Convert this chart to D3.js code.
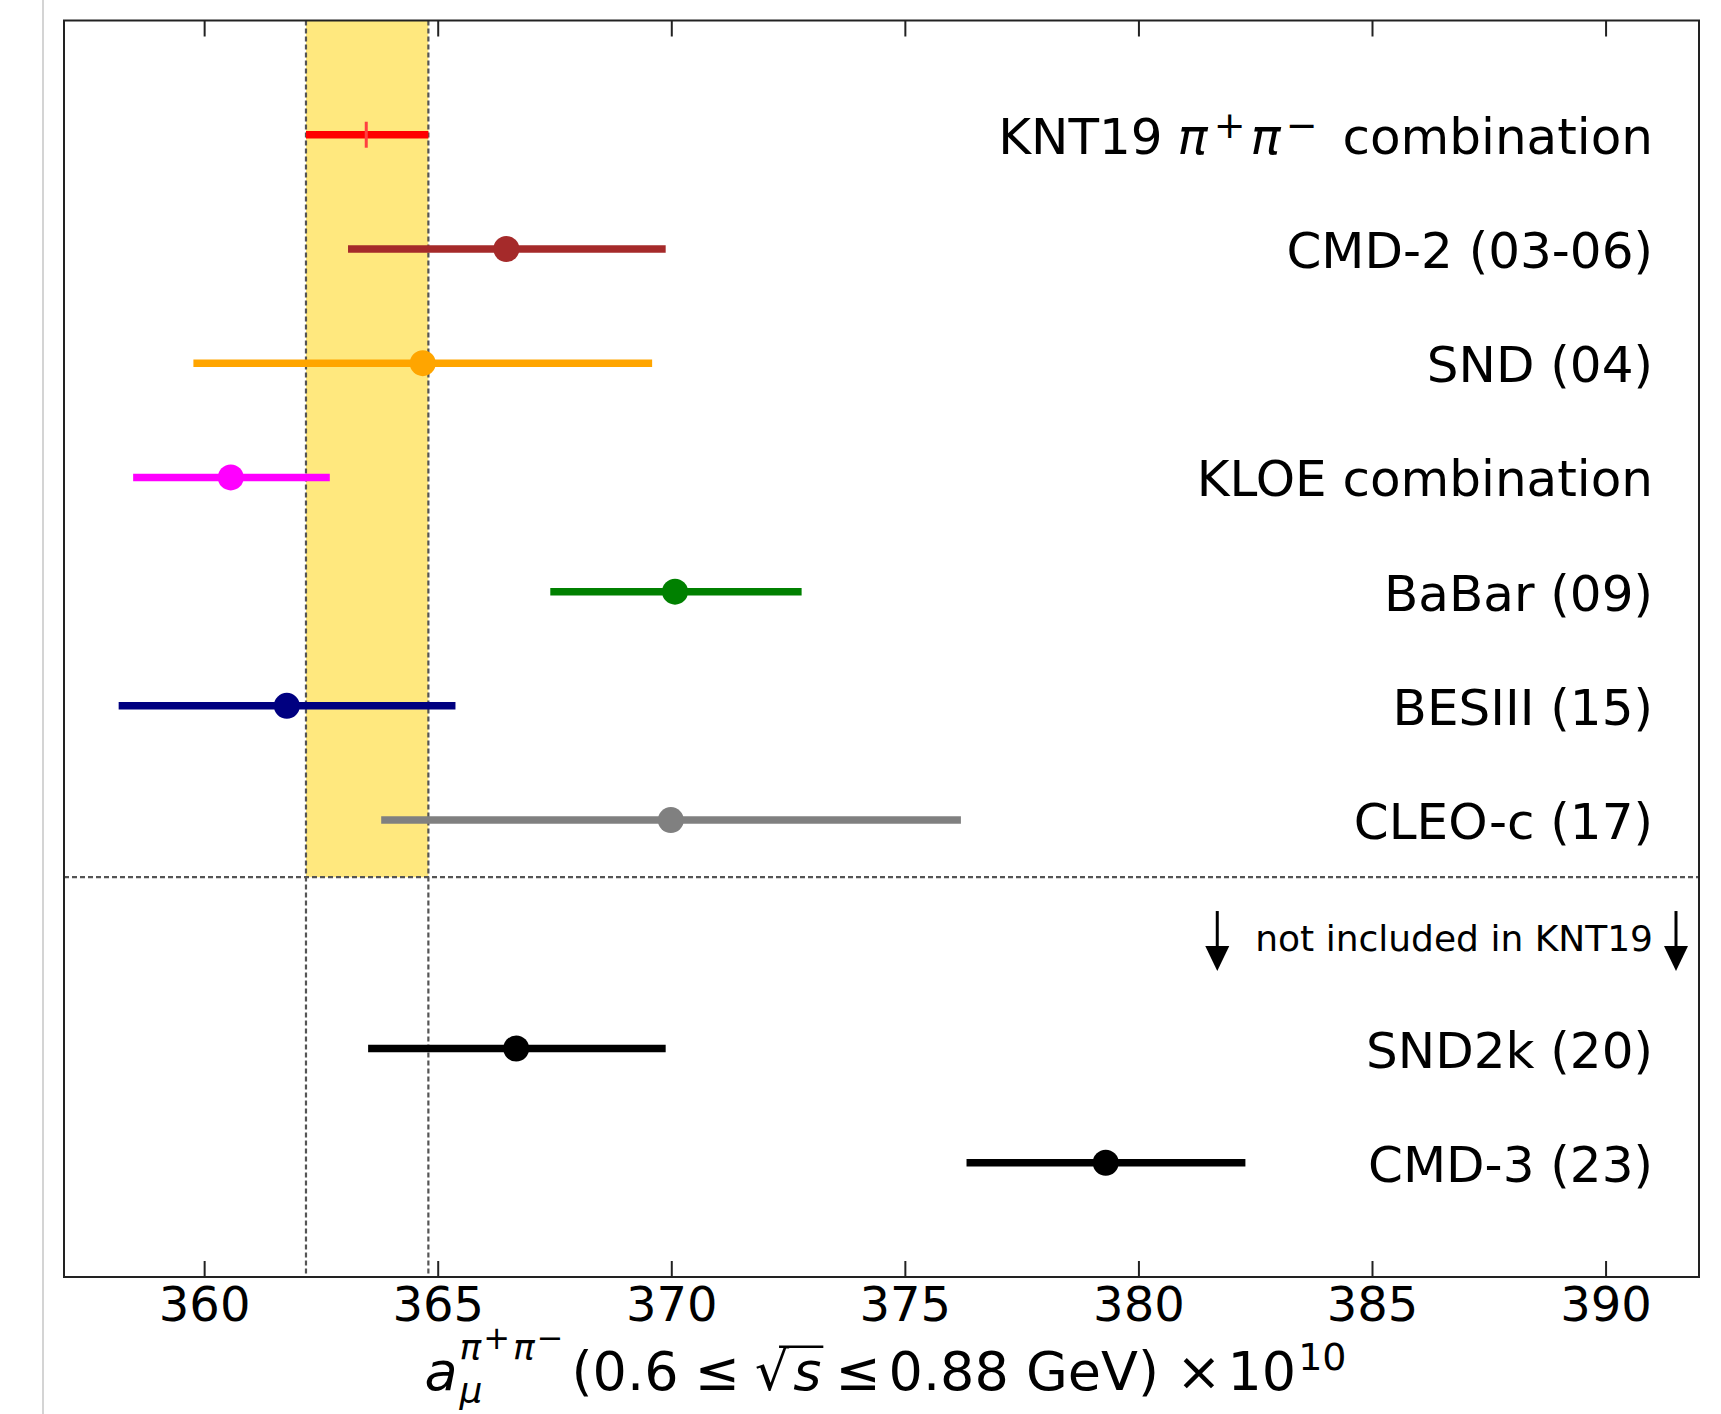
<!DOCTYPE html>
<html><head><meta charset="utf-8">
<script src="https://cdn.jsdelivr.net/npm/d3@7"></script>
<style>
body{margin:0;background:#fff}
svg{display:block}
text{font-family:"DejaVu Sans",sans-serif;fill:#000}
</style>
</head><body>
<svg id="c" width="1721" height="1414"></svg>
<script>
// ---- data ----
const experiments = ["KNT19", "CMD-2 (03-06)", "SND (04)", "KLOE combination", "BaBar (09)", "BESIII (15)", "CLEO-c (17)", "SND2k (20)", "CMD-3 (23)"];
const rowIndex = [0, 1, 2, 3, 4, 5, 6, 8, 9];
const centralValues = [363.47, 366.47, 364.68, 360.57, 370.08, 361.77, 369.99, 366.68, 379.30];
const lowerValues  = [362.18, 363.08, 359.77, 358.48, 367.41, 358.17, 363.79, 363.51, 376.32];
const upperValues  = [364.80, 369.88, 369.59, 362.69, 372.79, 365.38, 376.20, 369.88, 382.29];
const seriesColors = ["#ff0000", "#a52a2a", "#ffa500", "#ff00ff", "#008000", "#000080", "#808080", "#000000", "#000000"];
const xTickValues = [360, 365, 370, 375, 380, 385, 390];
const bandRange = [362.18, 364.80];
const separatorRow = 6.5;
const noteText = "not included in KNT19";

// ---- layout ----
const svg = d3.select("#c");
const L = 64, R = 1699, T = 20.5, B = 1277;
const x = d3.scaleLinear().domain([357, 392]).range([L, R]);
const y = d3.scaleLinear().domain([-1, 10]).range([T, B]);

// page border artifact
svg.append("line").attr("x1", 43).attr("x2", 43).attr("y1", 0).attr("y2", 1414)
  .attr("stroke", "#d4d4d4").attr("stroke-width", 2);

// band
svg.append("rect").attr("x", x(bandRange[0])).attr("y", T)
  .attr("width", x(bandRange[1]) - x(bandRange[0]))
  .attr("height", y(separatorRow) - T)
  .attr("fill", "#ffe87e");

const dash = {stroke: "#555", "stroke-width": 2.2, "stroke-dasharray": "5,3"};
bandRange.forEach(v => {
  const l = svg.append("line").attr("x1", x(v)).attr("x2", x(v)).attr("y1", T).attr("y2", B);
  Object.entries(dash).forEach(([k, val]) => l.attr(k, val));
});
{
  const l = svg.append("line").attr("x1", L).attr("x2", R).attr("y1", y(separatorRow)).attr("y2", y(separatorRow));
  Object.entries(dash).forEach(([k, val]) => l.attr(k, val));
}

// error bars
const data = experiments.map((e, i) => ({e, r: rowIndex[i], c: centralValues[i], lo: lowerValues[i], hi: upperValues[i], col: seriesColors[i]}));
svg.append("g").selectAll("line").data(data).join("line")
  .attr("x1", d => x(d.lo)).attr("x2", d => x(d.hi))
  .attr("y1", d => y(d.r)).attr("y2", d => y(d.r))
  .attr("stroke", d => d.col).attr("stroke-width", 7.5);
svg.append("g").selectAll("circle").data(data.slice(1)).join("circle")
  .attr("cx", d => x(d.c)).attr("cy", d => y(d.r)).attr("r", 13)
  .attr("fill", d => d.col);
svg.append("line").attr("x1", x(data[0].c)).attr("x2", x(data[0].c))
  .attr("y1", y(data[0].r) - 13).attr("y2", y(data[0].r) + 13)
  .attr("stroke", "#ff4040").attr("stroke-width", 3);

// text layout helper
function layout(parent, pieces, x0, y0, anchor) {
  const g = parent.append("g");
  let cx = 0, saved = 0, lastStart = 0;
  pieces.forEach(p => {
    if (p.mark) saved = cx;
    if (p.back) cx = saved;
    cx += (p.dx || 0);
    const t = g.append("text").attr("x", cx).attr("y", p.dy || 0)
      .attr("font-size", p.size).text(p.t);
    if (p.italic) t.attr("font-style", "italic");
    const w = t.node().getComputedTextLength();
    if (p.over) {
      const oy = (p.dy || 0) - p.size * 0.80;
      g.append("line").attr("x1", lastStart + p.size * 0.45).attr("x2", cx + w + 2)
        .attr("y1", oy).attr("y2", oy)
        .attr("stroke", "#000").attr("stroke-width", 2.6);
    }
    lastStart = cx;
    cx += w;
  });
  const total = cx;
  const off = anchor === "end" ? x0 - total : anchor === "middle" ? x0 - total / 2 : x0;
  g.attr("transform", `translate(${off},${y0})`);
  return {g, start: off, end: off + total};
}

// labels
const FS = 50;
data.forEach((d, i) => {
  if (i === 0) {
    layout(svg, [
      {t: "KNT19", size: FS},
      {t: "π", size: FS, italic: true, dx: 15},
      {t: "+", size: 38, dy: -16, dx: 6},
      {t: "π", size: FS, italic: true, dx: 5},
      {t: "−", size: 38, dy: -16, dx: 5},
      {t: "combination", size: FS, dx: 25}
    ], 1653, y(d.r) + 19, "end");
  } else {
    svg.append("text").attr("x", 1653).attr("y", y(d.r) + 19)
      .attr("text-anchor", "end").attr("font-size", FS).text(d.e);
  }
});

// note with arrows
const note = svg.append("text").attr("x", 1653).attr("y", y(7.05) + 11)
  .attr("text-anchor", "end").attr("font-size", 36).text(noteText);
const nw = note.node().getComputedTextLength();
function arrow(ax) {
  const top = y(7.05) - 29, bot = y(7.05) + 31;
  svg.append("line").attr("x1", ax).attr("x2", ax).attr("y1", top).attr("y2", bot - 20)
    .attr("stroke", "#000").attr("stroke-width", 3);
  svg.append("path").attr("d", `M${ax - 12},${bot - 25} L${ax + 12},${bot - 25} L${ax},${bot} Z`).attr("fill", "#000");
}
arrow(1653 - nw - 38);
arrow(1676);

// frame
svg.append("rect").attr("x", L).attr("y", T).attr("width", R - L).attr("height", B - T)
  .attr("fill", "none").attr("stroke", "#222").attr("stroke-width", 2);

// axes (ticks inward on bottom and top)
const bottomAxis = d3.axisBottom(x).tickValues(xTickValues).tickSize(-16).tickPadding(10).tickFormat(d3.format("d"));
const gb = svg.append("g").attr("transform", `translate(0,${B})`).call(bottomAxis);
gb.select(".domain").remove();
gb.selectAll(".tick line").attr("stroke", "#222").attr("stroke-width", 2);
gb.selectAll(".tick text").attr("font-size", 48).attr("font-family", "DejaVu Sans").attr("fill", "#000").attr("dy", "0.71em");
const topAxis = d3.axisTop(x).tickValues(xTickValues).tickSize(-16).tickFormat("");
const gt = svg.append("g").attr("transform", `translate(0,${T})`).call(topAxis);
gt.select(".domain").remove();
gt.selectAll(".tick line").attr("stroke", "#222").attr("stroke-width", 2);

// x-axis title
const TS = 54, SS = 36;
layout(svg, [
  {t: "a", size: TS, italic: true},
  {t: "μ", size: SS, italic: true, dy: 13, mark: true, dx: 2},
  {t: "π", size: SS, italic: true, dy: -30, back: true, dx: 2},
  {t: "+", size: 32, dy: -41, dx: 2},
  {t: "π", size: SS, italic: true, dy: -30, dx: 3},
  {t: "−", size: 32, dy: -41, dx: 2},
  {t: "(0.6", size: TS, dx: 8},
  {t: "≤", size: TS, dx: 16},
  {t: "√", size: TS, dx: 15},
  {t: "s", size: TS, italic: true, over: true, dx: 4},
  {t: "≤", size: TS, dx: 14},
  {t: "0.88 GeV) ×", size: TS, dx: 8},
  {t: "10", size: TS, dx: 6},
  {t: "10", size: 38, dy: -20, dx: 2}
], (L + R) / 2 + 4, 1390, "middle");
</script>
</body></html>
